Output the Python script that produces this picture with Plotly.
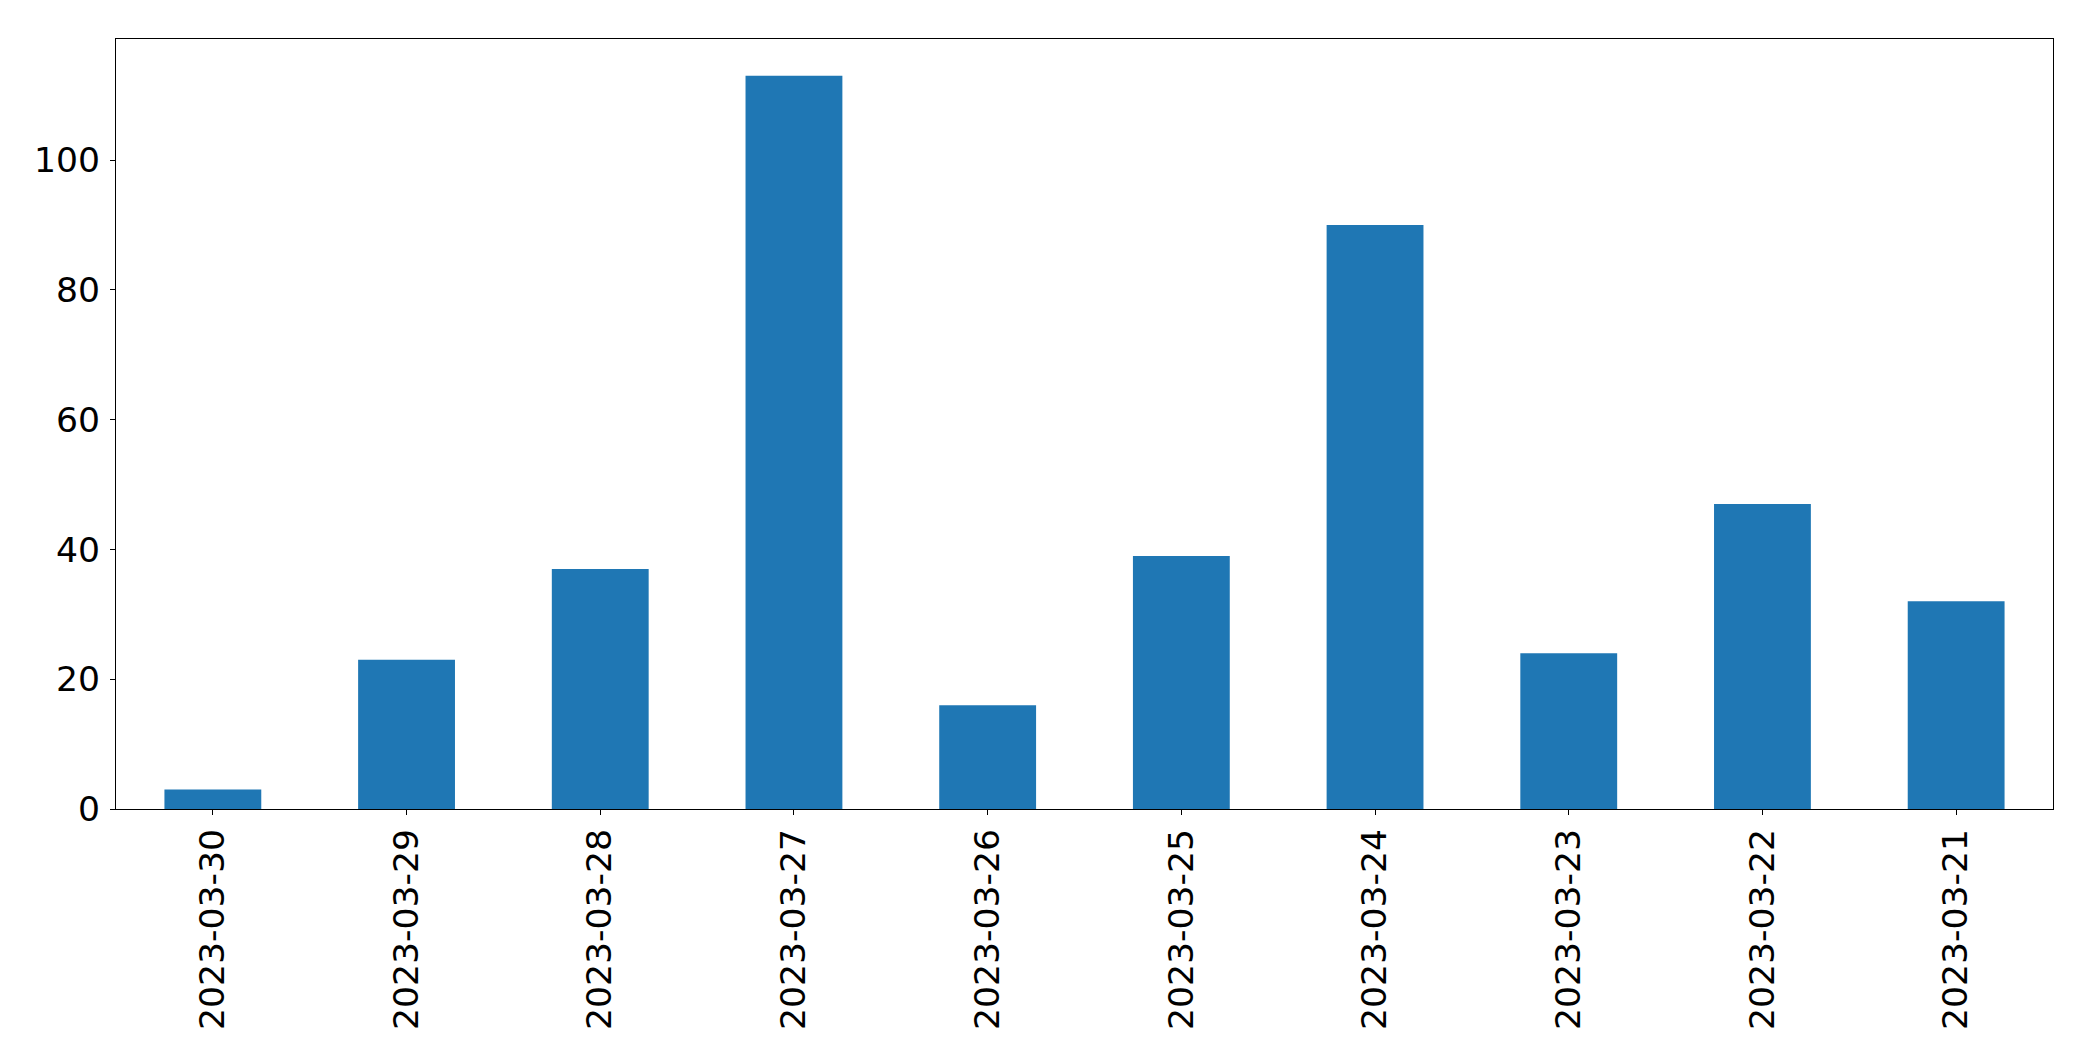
import plotly.graph_objects as go

dates = ["2023-03-30", "2023-03-29", "2023-03-28", "2023-03-27", "2023-03-26",
         "2023-03-25", "2023-03-24", "2023-03-23", "2023-03-22", "2023-03-21"]
counts = [3, 23, 37, 113, 16, 39, 90, 24, 47, 32]
y_ticks = [0, 20, 40, 60, 80, 100]

fig = go.Figure(go.Bar(x=dates, y=counts, marker=dict(color="#1f77b4", line=dict(width=0))))

font = dict(family="DejaVu Sans", size=34.6, color="black")
fig.update_layout(
    width=2077, height=1045,
    margin=dict(l=108, r=32, t=31, b=244, autoexpand=False),
    plot_bgcolor="white", paper_bgcolor="white",
    bargap=0.5, showlegend=False,
    font=font,
)
fig.update_xaxes(
    type="category", range=[-0.5, len(dates) - 0.5], automargin=False,
    showline=True, linecolor="black", linewidth=1.3, mirror=True,
    ticks="outside", ticklen=5, tickwidth=1.3, tickcolor="black",
    tickangle=-90, showgrid=False, tickfont=font,
)
fig.update_yaxes(
    range=[0, max(counts) * 1.05], automargin=False,
    tickvals=y_ticks, ticklabelstandoff=3,
    showline=True, linecolor="black", linewidth=1.3, mirror=True,
    ticks="outside", ticklen=5, tickwidth=1.3, tickcolor="black",
    showgrid=False, zeroline=False, tickfont=font,
)
fig.write_html("out.html")
